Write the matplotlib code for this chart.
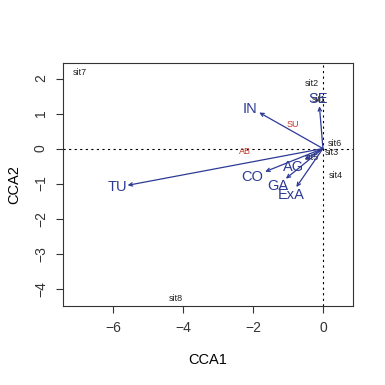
import matplotlib
matplotlib.use("Agg")
import matplotlib.pyplot as plt

plt.rcParams["font.family"] = ["Liberation Sans", "DejaVu Sans"]

# site scores
sites = ["sit1", "sit2", "sit3", "sit4", "sit5", "sit6", "sit7", "sit8"]
site_x = [-0.13, -0.33, 0.24, 0.37, -0.31, 0.33, -6.93, -4.21]
site_y = [1.41, 1.86, -0.10, -0.76, -0.26, 0.14, 2.16, -4.27]

# species scores
species = ["SU", "AB"]
spec_x = [-0.86, -2.22]
spec_y = [0.69, -0.07]

# environmental arrows (tips) and label positions
env = ["IN", "SE", "TU", "CO", "AG", "GA", "ExA"]
env_x = [-1.82, -0.10, -5.58, -1.65, -0.52, -1.06, -0.76]
env_y = [1.03, 1.21, -1.05, -0.66, -0.31, -0.86, -1.10]
lab_x = [-2.08, -0.13, -5.87, -2.01, -0.84, -1.29, -0.91]
lab_y = [1.12, 1.41, -1.10, -0.81, -0.54, -1.08, -1.33]

blue = "#2c3a96"
red = "#c0392b"

fig = plt.figure(figsize=(3.85, 3.85), dpi=100)
ax = fig.add_axes([0.164, 0.205, 0.753, 0.631])

ax.axhline(0, color="black", linestyle=(0, (2, 3)), linewidth=0.8)
ax.axvline(0, color="black", linestyle=(0, (2, 3)), linewidth=0.8)

for n, x, y in zip(sites, site_x, site_y):
    ax.text(x, y, n, fontsize=6.5, ha="center", va="center", color="#222222")

for n, x, y in zip(species, spec_x, spec_y):
    ax.text(x, y, n, fontsize=6.5, ha="center", va="center", color=red)

for n, x, y, lx, ly in zip(env, env_x, env_y, lab_x, lab_y):
    ax.annotate("", xy=(x, y), xytext=(0, 0),
                arrowprops=dict(arrowstyle="->,head_length=0.25,head_width=0.12",
                                color=blue, lw=0.9, shrinkA=0, shrinkB=0))
    ax.text(lx, ly, n, fontsize=10.5, ha="center", va="center", color=blue)

ax.set_xlim(-7.42, 0.86)
ax.set_ylim(-4.5, 2.44)
ax.set_xticks([-6, -4, -2, 0])
ax.set_yticks([-4, -3, -2, -1, 0, 1, 2])
ax.tick_params(direction="out", length=5, width=0.8, labelsize=10, colors="#333333", pad=6)
for lbl in ax.get_yticklabels():
    lbl.set_rotation(90)
    lbl.set_va("center")
for s in ax.spines.values():
    s.set_linewidth(0.8)
    s.set_color("#333333")

ax.set_xlabel("CCA1", fontsize=10.5, labelpad=13)
ax.set_ylabel("CCA2", fontsize=10.5, labelpad=9)

fig.savefig("out.png", dpi=100)
